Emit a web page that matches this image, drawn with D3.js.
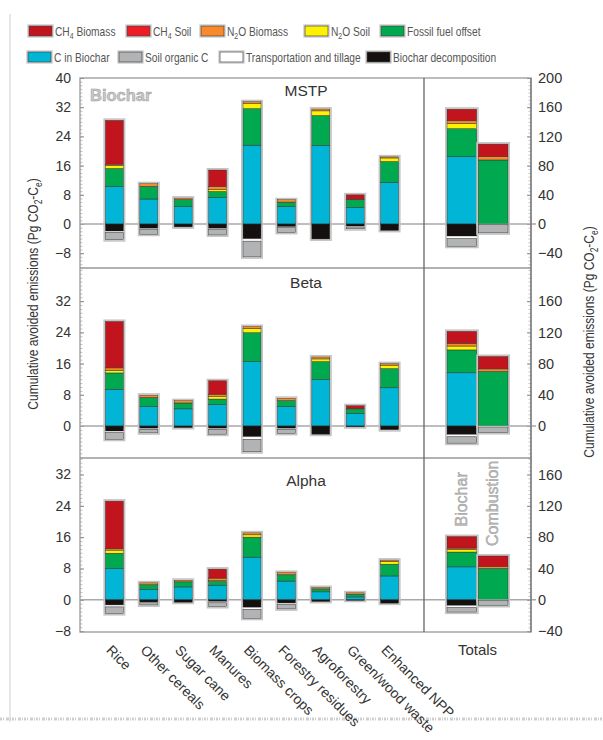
<!DOCTYPE html>
<html>
<head>
<meta charset="utf-8">
<script src="https://cdn.jsdelivr.net/npm/d3@7"></script>
<style>
body { margin: 0; background: #fff; }
text { font-family: "Liberation Sans", Arial, sans-serif; fill: #333; }
</style>
</head>
<body>
<div id="chart"></div>
<script>
const width = 603;
const height = 740;

const categories = ["Rice", "Other cereals", "Sugar cane", "Manures", "Biomass crops",
    "Forestry residues", "Agroforestry", "Green/wood waste", "Enhanced NPP"];
const totalsLabels = ["Biochar", "Combustion"];

// series, stacked upward from zero in this order
const posSeries = ["cBiochar", "fossil", "n2oSoil", "n2oBiomass", "ch4Soil", "ch4Biomass"];
// series, stacked downward from zero in this order
const negSeries = ["decomp", "transport", "soilC"];

// MSTP (Pg CO2-Ce per category)
const mstpCBiochar   = [10.3, 6.85, 4.75, 7.2, 21.6, 4.75, 21.5, 4.5, 11.4];
const mstpFossil     = [4.9, 3.45, 1.9, 1.7, 10.0, 1.25, 8.2, 2.25, 5.7];
const mstpN2oSoil    = [0.8, 0, 0, 0.5, 1.5, 0, 1.3, 0, 1.0];
const mstpN2oBiomass = [0.4, 0.75, 0.45, 0.9, 0.4, 0.65, 0.5, 0, 0.3];
const mstpCh4Soil    = [0, 0, 0, 0, 0, 0, 0, 0, 0];
const mstpCh4Biomass = [12.0, 0, 0, 4.5, 0, 0, 0, 1.25, 0];
const mstpDecomp     = [2.0, 1.3, 0.8, 1.3, 4.1, 0.8, 4.1, 0.65, 1.75];
const mstpTransport  = [0.3, 0.25, 0, 0.25, 0.6, 0.2, 0, 0.15, 0];
const mstpSoilC      = [2.0, 1.25, 0, 1.45, 4.3, 1.3, 0, 0.5, 0];

// Beta
const betaCBiochar   = [9.4, 5.0, 4.4, 5.5, 16.5, 5.0, 11.9, 3.2, 9.8];
const betaFossil     = [4.2, 2.3, 1.5, 1.4, 7.4, 1.5, 4.6, 1.2, 4.9];
const betaN2oSoil    = [0.7, 0, 0, 0.6, 1.1, 0, 0.7, 0, 0.9];
const betaN2oBiomass = [0.6, 0.6, 0.6, 0.65, 0.5, 0.6, 0.5, 0, 0.4];
const betaCh4Soil    = [0, 0, 0, 0, 0, 0, 0, 0, 0];
const betaCh4Biomass = [11.9, 0, 0, 3.45, 0, 0, 0, 0.8, 0];
const betaDecomp     = [1.35, 0.7, 0.4, 0.7, 2.8, 0.7, 2.1, 0.2, 0.95];
const betaTransport  = [0.35, 0.15, 0, 0.15, 0.6, 0.15, 0, 0, 0];
const betaSoilC      = [1.7, 0.9, 0, 1.25, 3.2, 1.05, 0, 0, 0];

// Alpha
const alphaCBiochar   = [8.0, 2.65, 3.3, 3.75, 10.9, 4.8, 2.05, 0.75, 6.1];
const alphaFossil     = [3.9, 1.2, 1.3, 0.95, 5.1, 1.6, 0.75, 0.7, 3.0];
const alphaN2oSoil    = [0.8, 0, 0, 0.25, 0.6, 0, 0, 0, 0.7];
const alphaN2oBiomass = [0.35, 0.5, 0.4, 0.6, 0.5, 0.6, 0.35, 0.35, 0.35];
const alphaCh4Soil    = [0, 0, 0, 0, 0, 0, 0, 0, 0];
const alphaCh4Biomass = [12.15, 0, 0, 2.3, 0, 0, 0, 0, 0];
const alphaDecomp     = [1.35, 0.6, 0.6, 0.5, 2.0, 0.85, 0.4, 0.1, 0.85];
const alphaTransport  = [0.45, 0.15, 0, 0.25, 0.4, 0.25, 0, 0, 0];
const alphaSoilC      = [1.7, 0.55, 0, 0.95, 2.3, 1.2, 0, 0, 0];

// Totals (right axis), values in posSeries then negSeries order
const mstpTotalBiochar     = [92.3, 38.2, 7.2, 3.7, 0, 15.9, 16.8, 3.2, 10.5];
const mstpTotalCombustion  = [0, 87.7, 0, 4.6, 0, 17.2, 0, 0.8, 11.3];
const betaTotalBiochar     = [68.2, 29.3, 5.0, 3.4, 0, 15.4, 11.3, 2.5, 8.2];
const betaTotalCombustion  = [0, 69.9, 0, 3.3, 0, 15.9, 0, 1.3, 7.1];
const alphaTotalBiochar    = [42.1, 18.9, 3.0, 2.1, 0, 14.7, 7.6, 2.1, 5.9];
const alphaTotalCombustion = [0, 40.0, 0, 2.5, 0, 13.5, 0, 0.8, 6.4];

const leftTicksTop = [40, 32, 24, 16, 8, 0, -8];
const leftTicksMid = [32, 24, 16, 8, 0];
const leftTicksBot = [32, 24, 16, 8, 0, -8];
const rightTicksTop = [200, 160, 120, 80, 40, 0, -40];
const rightTicksMid = [160, 120, 80, 40, 0];
const rightTicksBot = [160, 120, 80, 40, 0, -40];

const colors = {
    ch4Biomass: "#c1141c", ch4Soil: "#ee1d25", n2oBiomass: "#f78a2b", n2oSoil: "#fff200",
    fossil: "#00a84f", cBiochar: "#00b5d6", soilC: "#b1b3b5", transport: "#ffffff", decomp: "#141010"
};

const legendRows = [
    [["ch4Biomass", "CH", "4", " Biomass"], ["ch4Soil", "CH", "4", " Soil"], ["n2oBiomass", "N", "2", "O Biomass"],
     ["n2oSoil", "N", "2", "O Soil"], ["fossil", "Fossil fuel offset", "", ""]],
    [["cBiochar", "C in Biochar", "", ""], ["soilC", "Soil organic C", "", ""], ["transport", "Transportation and tillage", "", ""],
     ["decomp", "Biochar decomposition", "", ""]]
];

function rows(cb, fo, ns, nb, cs, cm, de, tr, sc) {
    return categories.map((c, i) => ({
        cBiochar: cb[i], fossil: fo[i], n2oSoil: ns[i], n2oBiomass: nb[i], ch4Soil: cs[i], ch4Biomass: cm[i],
        decomp: de[i], transport: tr[i], soilC: sc[i]
    }));
}
function totalRow(arr) {
    const r = {};
    posSeries.concat(negSeries).forEach((k, i) => r[k] = arr[i]);
    return r;
}

const panels = [
    { name: "MSTP", top: 78, bottom: 268, domain: [-12.05, 40], lt: leftTicksTop, rt: rightTicksTop, titleY: 96,
      data: rows(mstpCBiochar, mstpFossil, mstpN2oSoil, mstpN2oBiomass, mstpCh4Soil, mstpCh4Biomass, mstpDecomp, mstpTransport, mstpSoilC),
      totals: [totalRow(mstpTotalBiochar), totalRow(mstpTotalCombustion)] },
    { name: "Beta", top: 268, bottom: 458, domain: [-8.2, 40.5], lt: leftTicksMid, rt: rightTicksMid, titleY: 288,
      data: rows(betaCBiochar, betaFossil, betaN2oSoil, betaN2oBiomass, betaCh4Soil, betaCh4Biomass, betaDecomp, betaTransport, betaSoilC),
      totals: [totalRow(betaTotalBiochar), totalRow(betaTotalCombustion)] },
    { name: "Alpha", top: 458, bottom: 632, domain: [-8.2, 36.2], lt: leftTicksBot, rt: rightTicksBot, titleY: 486,
      data: rows(alphaCBiochar, alphaFossil, alphaN2oSoil, alphaN2oBiomass, alphaCh4Soil, alphaCh4Biomass, alphaDecomp, alphaTransport, alphaSoilC),
      totals: [totalRow(alphaTotalBiochar), totalRow(alphaTotalCombustion)] }
];

const left = 80, divider = 424, right = 531;

const svg = d3.select("#chart")
    .append("svg")
    .attr("width", width)
    .attr("height", height);

const x = d3.scalePoint().domain(categories).range([left, divider]).padding(1);
const xt = d3.scaleBand().domain(totalsLabels).range([447, 508]).paddingInner(0.05);
const barW = 18;

// page edge line and scan noise at the bottom
svg.append("line").attr("x1", 10).attr("x2", 10).attr("y1", 14).attr("y2", 722)
    .attr("stroke", "#d0d0d0").attr("stroke-width", 1);
svg.append("line").attr("x1", 0).attr("x2", width).attr("y1", 719).attr("y2", 719)
    .attr("stroke", "#cfcfcf").attr("stroke-width", 3).attr("stroke-dasharray", "2,1,1,2,3,1,1,1");

// legend (narrow type: squeezed horizontally)
legendRows.forEach((row, r) => {
    const xs = r === 0 ? [29, 127, 201, 305, 381] : [28, 119, 220, 367];
    const yy = r === 0 ? 26 : 52;
    row.forEach((item, j) => {
        const g = svg.append("g").attr("transform", `translate(${xs[j]},${yy})`);
        g.append("rect").attr("x", -1).attr("y", -1).attr("width", 25).attr("height", 12)
            .attr("fill", "none").attr("stroke", "#c4c4c4").attr("stroke-width", 1.2);
        g.append("rect").attr("width", 23).attr("height", 10)
            .attr("fill", colors[item[0]]).attr("stroke", "#444").attr("stroke-width", 0.7);
        const t = g.append("text").attr("transform", "translate(26,9.8) scale(0.81,1)")
            .attr("font-size", 12.6).style("fill", "#555");
        t.append("tspan").text(item[1]);
        if (item[2]) {
            t.append("tspan").attr("font-size", 8.5).attr("dy", 3).text(item[2]);
            t.append("tspan").attr("dy", -3).text(item[3]);
        }
    });
});

function drawStack(g, row, cx, w, y) {
    let pos = 0, neg = 0;
    const segs = [];
    posSeries.forEach(k => {
        if (row[k] > 0) { segs.push({ k, y0: pos, y1: pos + row[k] }); pos += row[k]; }
    });
    negSeries.forEach(k => {
        if (row[k] > 0) { segs.push({ k, y0: neg - row[k], y1: neg }); neg -= row[k]; }
    });
    // light halo round the whole bar
    [[0, pos], [neg, 0]].forEach(([a, b]) => {
        if (b - a <= 0) return;
        g.append("rect")
            .attr("x", cx - w / 2 - 1.2).attr("width", w + 2.4)
            .attr("y", y(b) - 1.2).attr("height", y(a) - y(b) + 2.4)
            .attr("fill", "none").attr("stroke", "#c4c4c4").attr("stroke-width", 1.6);
    });
    g.selectAll(null).data(segs).join("rect")
        .attr("x", cx - w / 2).attr("width", w)
        .attr("y", d => y(d.y1)).attr("height", d => y(d.y0) - y(d.y1))
        .attr("fill", d => colors[d.k])
        .attr("stroke", d => d.k === "transport" ? "#d0d0d0" : "#333")
        .attr("stroke-width", 0.5);
    return pos;
}

panels.forEach((p, pi) => {
    const y = d3.scaleLinear().domain(p.domain).range([p.bottom, p.top]);
    const yr = d3.scaleLinear().domain([p.domain[0] * 5, p.domain[1] * 5]).range([p.bottom, p.top]);
    const g = svg.append("g");

    // minor ticks
    const minor = d3.range(Math.ceil(p.domain[0]), p.domain[1], 1);
    g.append("g").attr("transform", `translate(${left},0)`)
        .call(d3.axisLeft(y).tickValues(minor).tickSizeInner(-2.5).tickSizeOuter(0).tickFormat(""))
        .call(a => a.select(".domain").remove())
        .call(a => a.selectAll("line").attr("stroke", "#999").attr("stroke-width", 0.6));
    g.append("g").attr("transform", `translate(${right},0)`)
        .call(d3.axisRight(y).tickValues(minor).tickSizeInner(-2.5).tickSizeOuter(0).tickFormat(""))
        .call(a => a.select(".domain").remove())
        .call(a => a.selectAll("line").attr("stroke", "#999").attr("stroke-width", 0.6));

    // major ticks + labels
    g.append("g").attr("transform", `translate(${left},0)`)
        .call(d3.axisLeft(y).tickValues(p.lt).tickSizeInner(-4).tickSizeOuter(0).tickPadding(9))
        .call(a => a.select(".domain").remove())
        .call(a => a.selectAll("line").attr("stroke", "#888"))
        .call(a => a.selectAll("text").attr("font-size", 14).style("fill", "#333")
            .attr("font-family", "'Liberation Sans', Arial, sans-serif"));
    g.append("g").attr("transform", `translate(${right},0)`)
        .call(d3.axisRight(yr).tickValues(p.rt).tickSizeInner(-4).tickSizeOuter(0).tickPadding(7))
        .call(a => a.select(".domain").remove())
        .call(a => a.selectAll("line").attr("stroke", "#888"))
        .call(a => a.selectAll("text").attr("font-size", 14.5).style("fill", "#333")
            .attr("font-family", "'Liberation Sans', Arial, sans-serif"));

    // zero line
    g.append("line").attr("x1", left).attr("x2", right + 5)
        .attr("y1", y(0)).attr("y2", y(0))
        .attr("stroke", "#a8a8a8").attr("stroke-width", 1.5);

    // category bars
    p.data.forEach((row, i) => drawStack(g, row, x(categories[i]), barW, y));

    // totals bars on the right-axis scale
    p.totals.forEach((row, i) => {
        const top = drawStack(g, row, xt(totalsLabels[i]) + xt.bandwidth() / 2, xt.bandwidth(), yr);
        if (pi === 2) {
            g.append("text")
                .attr("transform", `translate(${xt(totalsLabels[i]) + xt.bandwidth() / 2 + 5},${yr(top) - 10}) rotate(-90)`)
                .attr("font-size", 16).style("fill", "#bbb").attr("stroke", "#999").attr("stroke-width", 0.4)
                .text(totalsLabels[i]);
        }
    });

    // panel title
    g.append("text").attr("x", 306).attr("y", p.titleY).attr("text-anchor", "middle")
        .attr("font-size", 15.5).style("fill", "#333").text(p.name);
});

// frame
const frame = svg.append("g").attr("stroke", "#999").attr("stroke-width", 1.3).attr("fill", "none");
frame.append("rect").attr("x", left).attr("y", 78).attr("width", right - left).attr("height", 632 - 78);
[268, 458].forEach(v => frame.append("line").attr("x1", left).attr("x2", right).attr("y1", v).attr("y2", v));
frame.append("line").attr("x1", divider).attr("x2", divider).attr("y1", 78).attr("y2", 632).attr("stroke", "#666");
frame.append("line").attr("x1", right).attr("x2", right).attr("y1", 78).attr("y2", 632).attr("stroke", "#777");

// "Biochar" corner label
svg.append("text").attr("x", 90).attr("y", 101).attr("font-size", 16.5).attr("font-weight", "bold")
    .style("fill", "#c9c9c9").attr("stroke", "#9a9a9a").attr("stroke-width", 0.5).text("Biochar");

// category labels
svg.selectAll(".cat").data(categories).join("text")
    .attr("class", "cat")
    .attr("transform", d => `translate(${x(d) - 9},651) rotate(45)`)
    .attr("font-size", 14).style("fill", "#333")
    .text(d => d);
svg.append("text").attr("x", 477.5).attr("y", 655).attr("text-anchor", "middle")
    .attr("font-size", 15).style("fill", "#333").text("Totals");

// y titles (narrow type)
function yTitle(cx, cy) {
    const t = svg.append("text")
        .attr("transform", `translate(${cx},${cy}) rotate(-90) scale(0.8,1)`)
        .attr("text-anchor", "middle").attr("font-size", 15).style("fill", "#333");
    t.append("tspan").text("Cumulative avoided emissions (Pg CO");
    t.append("tspan").attr("font-size", 10.5).attr("dy", 4).text("2");
    t.append("tspan").attr("dy", -4).text("-C");
    t.append("tspan").attr("font-size", 10.5).attr("dy", 4).text("e");
    t.append("tspan").attr("dy", -4).text(")");
}
yTitle(38, 294);
yTitle(594, 342);
</script>
</body>
</html>
